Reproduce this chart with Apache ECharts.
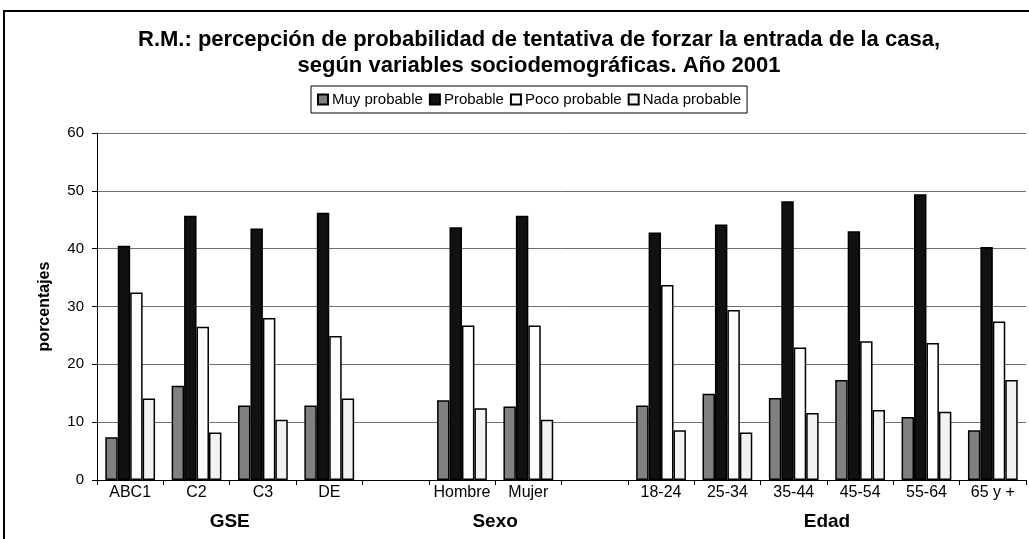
<!DOCTYPE html>
<html>
<head>
<meta charset="utf-8">
<script src="https://cdn.jsdelivr.net/npm/echarts@6/dist/echarts.min.js"></script>
<style>
  html, body { margin: 0; padding: 0; background: #fff; }
  #chart { width: 1029px; height: 539px; }
</style>
</head>
<body>
<div id="chart"></div>
<script>
// categorias del eje x (las vacias separan los grupos)
const categories = ['ABC1', 'C2', 'C3', 'DE', '', 'Hombre', 'Mujer', '', '18-24', '25-34', '35-44', '45-54', '55-64', '65 y +'];
// grupos: nombre, primera categoria, fin (exclusivo)
const groupNames = ['GSE', 'Sexo', 'Edad'];
const groupStart = [0, 5, 8];
const groupEnd = [4, 7, 14];

const seriesNames = ['Muy probable', 'Probable', 'Poco probable', 'Nada probable'];
const muyProbable = [7.4, 16.3, 12.9, 12.9, null, 13.8, 12.7, null, 12.9, 14.9, 14.2, 17.3, 10.9, 8.6];
const probable = [40.5, 45.7, 43.5, 46.2, null, 43.7, 45.7, null, 42.8, 44.2, 48.2, 43.0, 49.4, 40.3];
const pocoProbable = [32.4, 26.5, 28.0, 24.9, null, 26.7, 26.7, null, 33.7, 29.4, 22.9, 24.0, 23.7, 27.4];
const nadaProbable = [14.1, 8.2, 10.4, 14.1, null, 12.4, 10.4, null, 8.6, 8.2, 11.6, 12.1, 11.8, 17.3];

const yTicks = [0, 10, 20, 30, 40, 50, 60];

const colors = ['#808080', '#111111', '#fdfdfd', '#f2f2f2'];
const font = 'Liberation Sans, Arial, sans-serif';

// etiquetas de grupo en las fronteras de categorias (boundaryGap false)
const groupSlots = [];
for (let i = 0; i <= categories.length; i++) groupSlots.push('');
for (let g = 0; g < groupNames.length; g++) {
  groupSlots[(groupStart[g] + groupEnd[g]) / 2] = groupNames[g];
}

const allData = [muyProbable, probable, pocoProbable, nadaProbable];

let myChart = echarts.init(document.getElementById('chart'));
let option = {
  animation: false,
  backgroundColor: '#fff',
  title: {
    text: 'R.M.: percepción de probabilidad de tentativa de forzar la entrada de la casa,\nsegún variables sociodemográficas. Año 2001',
    left: 534,
    top: 22,
    textAlign: 'center',
    textStyle: {
      fontFamily: font,
      fontSize: 22,
      fontWeight: 'bold',
      color: '#000',
      lineHeight: 26
    }
  },
  legend: {
    data: seriesNames,
    left: 311,
    top: 86,
    orient: 'horizontal',
    itemWidth: 10,
    itemHeight: 10,
    itemGap: 6,
    padding: [6, 6, 6, 6],
    borderColor: '#000',
    borderWidth: 1,
    backgroundColor: '#fff',
    icon: 'rect',
    textStyle: { fontFamily: font, fontSize: 15, color: '#000', padding: [0, 0, 0, -1] }
  },
  grid: {
    left: 97,
    right: -2,
    top: 133,
    bottom: 59,
    containLabel: false
  },
  xAxis: [
    {
      type: 'category',
      data: categories,
      axisLine: { lineStyle: { color: '#000', width: 1 } },
      axisTick: { show: true, length: 5, interval: 0, lineStyle: { color: '#000' } },
      axisLabel: { interval: 0, fontFamily: font, fontSize: 16, color: '#000', margin: 5 }
    },
    {
      type: 'category',
      position: 'bottom',
      boundaryGap: false,
      data: groupSlots,
      axisLine: { show: false },
      axisTick: { show: false },
      axisLabel: { interval: 0, fontFamily: font, fontSize: 19, fontWeight: 'bold', color: '#000', margin: 32 }
    }
  ],
  yAxis: {
    type: 'value',
    min: 0,
    max: yTicks[yTicks.length - 1],
    interval: 10,
    name: 'porcentajes',
    nameLocation: 'middle',
    nameGap: 44,
    nameRotate: 90,
    nameTextStyle: { fontFamily: font, fontSize: 16, fontWeight: 'bold', color: '#000' },
    axisLine: { show: true, lineStyle: { color: '#000', width: 1 } },
    axisTick: { show: true, length: 5, lineStyle: { color: '#000' } },
    axisLabel: { fontFamily: font, fontSize: 15, color: '#000', margin: 13 },
    splitLine: { show: true, lineStyle: { color: '#707070', width: 1 } }
  },
  series: allData.map((d, i) => ({
    name: seriesNames[i],
    type: 'bar',
    data: d,
    barGap: '0%',
    barCategoryGap: '25%',
    itemStyle: { color: colors[i], borderColor: '#000', borderWidth: 1.5 }
  })),
  graphic: [
    {
      type: 'rect',
      shape: { x: 4, y: 11, width: 1040, height: 560 },
      style: { fill: 'none', stroke: '#000', lineWidth: 2 },
      silent: true,
      z: 100
    }
  ]
};
myChart.setOption(option);
</script>
</body>
</html>
